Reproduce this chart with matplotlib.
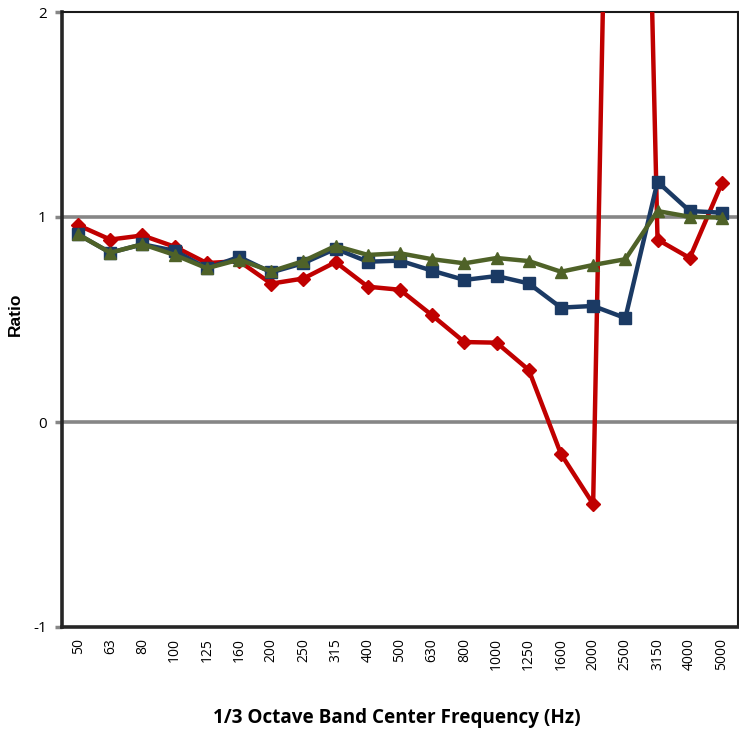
import numpy as np
import matplotlib.pyplot as plt

# 1/3 octave band centre frequencies
bands = ["50", "63", "80", "100", "125", "160", "200", "250", "315", "400", "500",
         "630", "800", "1000", "1250", "1600", "2000", "2500", "3150", "4000", "5000"]

# ratios (red at 2500 goes off the top)
red_vals = [0.96, 0.89, 0.91, 0.855, 0.775, 0.785, 0.675, 0.70, 0.78, 0.66, 0.645,
            0.52, 0.39, 0.387, 0.254, -0.156, -0.40, 7.6, 0.89, 0.80, 1.165]
blue_vals = [0.915, 0.826, 0.867, 0.835, 0.75, 0.805, 0.73, 0.775, 0.845, 0.782, 0.787,
             0.738, 0.693, 0.712, 0.676, 0.558, 0.566, 0.507, 1.172, 1.029, 1.021]
green_vals = [0.915, 0.826, 0.867, 0.815, 0.75, 0.792, 0.735, 0.785, 0.859, 0.815, 0.823,
              0.794, 0.774, 0.80, 0.785, 0.733, 0.766, 0.794, 1.029, 1.001, 0.997]

yticks = [-1, 0, 1, 2]

fig = plt.figure(figsize=(7.39, 7.30), dpi=100)
ax = fig.add_axes([62 / 739, 103 / 730, 676 / 739, 615 / 730])

x = np.arange(len(bands))

# horizontal gridlines at 0 and 1
for yv in [0, 1]:
    ax.axhline(yv, color="#868686", lw=2.6, zorder=1)

ax.plot(x, red_vals, color="#C00000", lw=3.2, marker="D", ms=7, zorder=3)
ax.plot(x, blue_vals, color="#1B3A64", lw=3.2, marker="s", ms=9, zorder=4)
ax.plot(x, green_vals, color="#4F6228", lw=3.2, marker="^", ms=9, zorder=5)

ax.set_xlim(-0.5, len(bands) - 0.5)
ax.set_ylim(-1, 2)
ax.set_xticks(x)
ax.set_xticklabels(bands, rotation=90, fontsize=10, family="Open Sans")
ax.set_yticks(yticks)
ax.set_yticklabels([str(v) for v in yticks], fontsize=11, family="Open Sans")
ax.tick_params(axis="x", length=0, pad=8)
ax.tick_params(axis="y", length=5, width=2.5, color="#868686", pad=6)

for side in ["left", "bottom"]:
    ax.spines[side].set_linewidth(2.6)
    ax.spines[side].set_color("#262626")
for side in ["top", "right"]:
    ax.spines[side].set_linewidth(1.5)
    ax.spines[side].set_color("#1a1a1a")

fig.text(0.021, 0.570, "Ratio", rotation=90, ha="center", va="center",
         fontsize=12.5, fontweight="bold", family="Liberation Sans")
fig.text(0.537, 0.017, "1/3 Octave Band Center Frequency (Hz)", ha="center",
         va="center", fontsize=13.6, fontweight="bold", family="Open Sans")

fig.savefig("out.png", dpi=100)
